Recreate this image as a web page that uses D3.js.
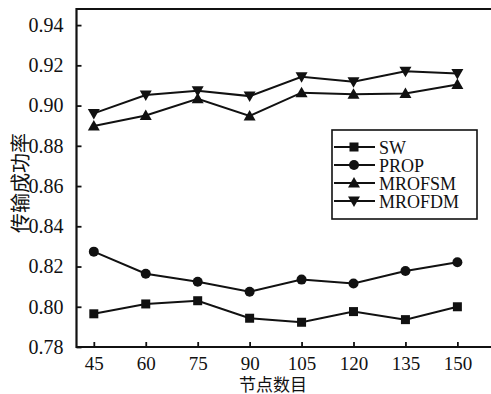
<!DOCTYPE html>
<html>
<head>
<meta charset="utf-8">
<script src="https://cdn.jsdelivr.net/npm/d3@7/dist/d3.min.js"></script>
<style>
  html, body { margin: 0; padding: 0; background: #fff; }
  svg { display: block; }
  text { font-family: "Liberation Serif", "Times New Roman", serif; fill: #111; }
  .cjk { font-family: "Noto Sans CJK SC", sans-serif; }
</style>
</head>
<body>
<svg id="chart" width="491" height="394"></svg>
<script>
// Node counts on the x axis
const nodes = [45, 60, 75, 90, 105, 120, 135, 150];
const xTicks = [45, 60, 75, 90, 105, 120, 135, 150];
const yTicks = [0.78, 0.80, 0.82, 0.84, 0.86, 0.88, 0.90, 0.92, 0.94];

// Transmission success rate per algorithm
const sw      = [0.7965, 0.8014, 0.8030, 0.7943, 0.7923, 0.7976, 0.7936, 0.8000];
const prop    = [0.8274, 0.8164, 0.8124, 0.8075, 0.8135, 0.8116, 0.8178, 0.8221];
const mrofsm  = [0.8898, 0.8951, 0.9034, 0.8948, 0.9064, 0.9056, 0.9060, 0.9105];
const mrofdm  = [0.8961, 0.9052, 0.9074, 0.9047, 0.9143, 0.9118, 0.9171, 0.9160];

const seriesNames = ["SW", "PROP", "MROFSM", "MROFDM"];
const seriesValues = [sw, prop, mrofsm, mrofdm];
const seriesSymbols = ["square", "circle", "up", "down"];

const svg = d3.select("#chart");
const plotL = 76.5, plotR = 492, plotT = 9, plotB = 347;

const x = d3.scaleLinear().domain([40, 160]).range([plotL, plotR]);
const y = d3.scaleLinear().domain([0.78, 0.948]).range([plotB, plotT]);

// Marker shapes
function marker(g, type, cx, cy) {
  if (type === "square") {
    g.append("rect").attr("x", cx - 4.5).attr("y", cy - 4.5)
      .attr("width", 9).attr("height", 9).attr("fill", "#111");
  } else if (type === "circle") {
    g.append("circle").attr("cx", cx).attr("cy", cy).attr("r", 5).attr("fill", "#111");
  } else if (type === "up") {
    g.append("path").attr("d", `M${cx},${cy - 6}L${cx + 6},${cy + 4.5}L${cx - 6},${cy + 4.5}Z`).attr("fill", "#111");
  } else {
    g.append("path").attr("d", `M${cx},${cy + 6}L${cx + 6},${cy - 4.5}L${cx - 6},${cy - 4.5}Z`).attr("fill", "#111");
  }
}

// Frame: left, bottom, top
svg.append("path")
  .attr("d", `M${plotR},${plotT}H${plotL}V${plotB}H${plotR}`)
  .attr("fill", "none").attr("stroke", "#111").attr("stroke-width", 2.2);

// Y axis (inward ticks)
const yAxis = d3.axisLeft(y).tickValues(yTicks).tickSize(-5).tickPadding(13)
  .tickFormat(d3.format(".2f"));
const gy = svg.append("g").attr("transform", `translate(${plotL},0)`).call(yAxis);
gy.select(".domain").remove();
gy.selectAll(".tick line").attr("stroke", "#111").attr("stroke-width", 1.8);
gy.selectAll(".tick text").style("font-size", "20px").attr("fill", "#111")
  .style("font-family", "'Liberation Serif', serif");

// X axis (inward ticks)
const xAxis = d3.axisBottom(x).tickValues(xTicks).tickSize(-5).tickPadding(10)
  .tickFormat(d3.format("d"));
const gx = svg.append("g").attr("transform", `translate(0,${plotB})`).call(xAxis);
gx.select(".domain").remove();
gx.selectAll(".tick line").attr("stroke", "#111").attr("stroke-width", 1.8);
gx.selectAll(".tick text").style("font-size", "19px").attr("fill", "#111")
  .style("font-family", "'Liberation Serif', serif");

// Axis titles
svg.append("text").attr("class", "cjk")
  .attr("transform", "translate(19,183) rotate(-90)")
  .attr("text-anchor", "middle").attr("dominant-baseline", "central")
  .style("font-size", "20px").text("传输成功率");
svg.append("text").attr("class", "cjk")
  .attr("x", 273).attr("y", 383.5)
  .attr("text-anchor", "middle").attr("dominant-baseline", "central")
  .style("font-size", "17px").text("节点数目");

// Series lines and markers
const line = d3.line().x((d, i) => x(nodes[i])).y(d => y(d));
seriesValues.forEach((vals, s) => {
  svg.append("path").datum(vals).attr("d", line)
    .attr("fill", "none").attr("stroke", "#111").attr("stroke-width", 2);
  const g = svg.append("g");
  vals.forEach((v, i) => marker(g, seriesSymbols[s], x(nodes[i]), y(v)));
});

// Legend
const lg = svg.append("g");
lg.append("rect").attr("x", 332).attr("y", 130).attr("width", 145).attr("height", 89)
  .attr("fill", "#fff").attr("stroke", "#111").attr("stroke-width", 1.6);
seriesNames.forEach((name, i) => {
  const ry = 147 + i * 18;
  lg.append("line").attr("x1", 334).attr("x2", 375).attr("y1", ry).attr("y2", ry)
    .attr("stroke", "#111").attr("stroke-width", 2);
  marker(lg, seriesSymbols[i], 354, ry);
  lg.append("text").attr("x", 379).attr("y", ry + 6.5)
    .style("font-size", "18px").text(name);
});
</script>
</body>
</html>
